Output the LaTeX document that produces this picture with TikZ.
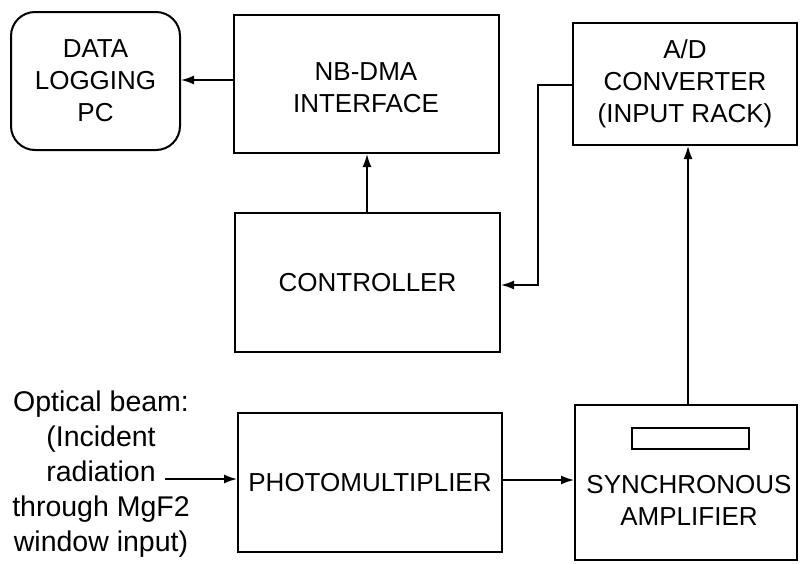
\documentclass[tikz,border=0pt]{standalone}
\usepackage{fontspec}
\setmainfont{Liberation Sans}
\usetikzlibrary{arrows.meta}
\tikzset{
  blk/.style={draw, line width=2pt, inner sep=0pt, align=center, font=\fontsize{26}{32}\selectfont},
  rblk/.style={blk, rounded corners=24pt},
  lbl/.style={inner sep=0pt, align=center, font=\fontsize{26}{32}\selectfont},
  conn/.style={line width=1.6pt, -{Latex[length=13pt,width=9pt]}},
  plain/.style={line width=1.6pt}
}
\begin{document}
\begin{tikzpicture}[x=1pt,y=-1pt]
\useasboundingbox (0,0) rectangle (800,563);
% boxes
\node[rblk, minimum width=169pt, minimum height=138pt] (pc) at (95.5,81) {DATA\\LOGGING\\PC};
\node[blk, minimum width=265pt, minimum height=138pt] (nb) at (366,84) {};
\node[lbl] (nbt) at (366,88) {NB-DMA\\INTERFACE};
\node[blk, minimum width=224pt, minimum height=122pt] (ad) at (685,84) {A/D\\CONVERTER\\(INPUT RACK)};
\node[blk, minimum width=265pt, minimum height=139pt] (ctl) at (367.5,282.5) {CONTROLLER};
\node[blk, minimum width=264pt, minimum height=139pt] (pm) at (370,482.5) {PHOTOMULTIPLIER};
\node[blk, minimum width=222pt, minimum height=155pt] (sa) at (686,482.5) {};
\node[draw, line width=1.8pt, minimum width=117pt, minimum height=21pt, inner sep=0pt] (disp) at (690.5,438.5) {};
\node[lbl] (sat) at (689,500) {SYNCHRONOUS\\AMPLIFIER};
% input text
\node[inner sep=0pt, align=center, font=\fontsize{28.5}{35}\selectfont] (inp) at (101,474)
  {Optical beam:\\(Incident\\radiation\\through MgF2\\window input)};
\coordinate (beam) at (165,479);
% connectors
\draw[conn] (nb.west |- 0,80) -- (pc.east |- 0,80);
\draw[conn] (ctl.north -| 367,0) -- (nb.south -| 367,0);
\draw[conn] (ad.west |- 0,85) -- (538,85) -- (538,285) -- (ctl.east |- 0,285);
\draw[conn] (sa.north -| 688,0) -- (ad.south -| 688,0);
\draw[conn] (pm.east |- 0,480) -- (sa.west |- 0,480);
\draw[conn] (beam) -- (pm.west |- beam);
\end{tikzpicture}
\end{document}
